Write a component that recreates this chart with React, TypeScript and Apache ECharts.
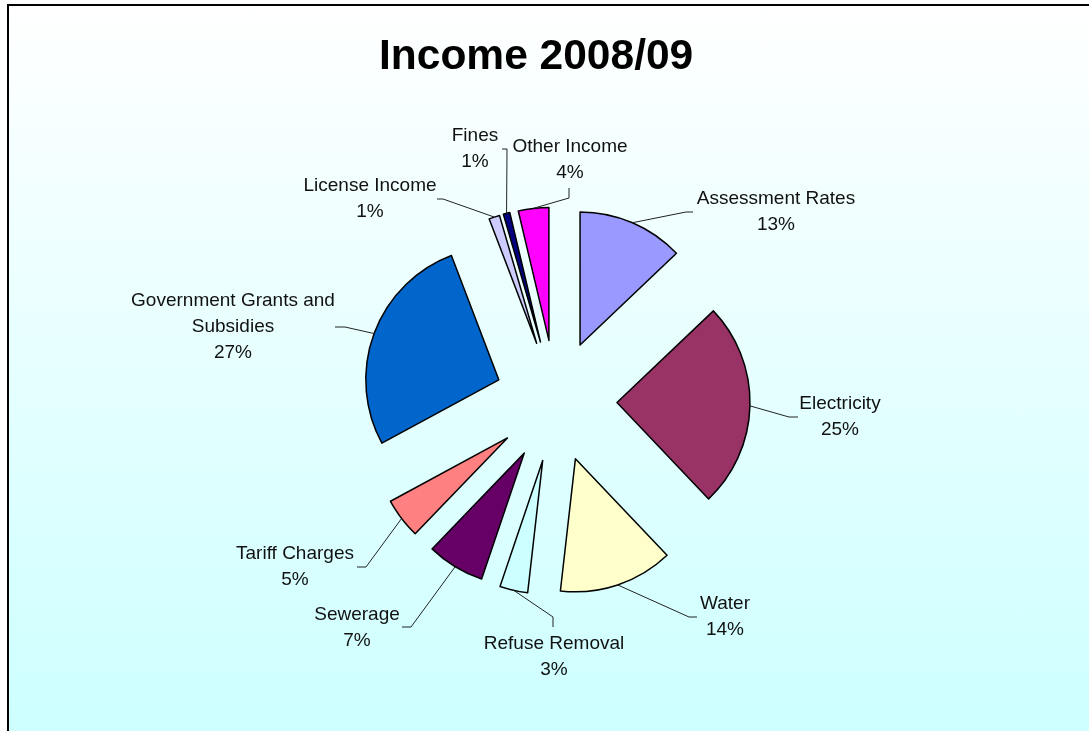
import React, { useEffect, useRef } from 'react';
import * as echarts from 'echarts';

const categories = [
  'Assessment Rates',
  'Electricity',
  'Water',
  'Refuse Removal',
  'Sewerage',
  'Tariff Charges',
  'Government Grants and Subsidies',
  'License Income',
  'Fines',
  'Other Income',
];
// shares (%); labels show them rounded
const values = [12.9, 25.0, 13.9, 3.4, 7.0, 4.9, 27.1, 1.3, 0.8, 3.7];
const colors = ['#9999FF', '#993366', '#FFFFCC', '#CCFFFF', '#660066', '#FF8080', '#0066CC', '#CCCCFF', '#000080', '#FF00FF'];

// label layout (text block centres) and leader-line bends
const labelCenters = [
  [776, 210], [840, 415], [725, 615], [554, 655], [357, 626],
  [295, 565], [233, 325], [370, 197], [475, 147], [570, 158],
];
const labelBends = [
  [[686, 212], [693, 212]],
  [[789, 417], [798, 417]],
  [[689, 617], [697, 617]],
  [[553, 617], [553, 627]],
  [[411, 627], [402, 627]],
  [[366, 567], [357, 567]],
  [[345, 327], [335, 327]],
  [[443, 199], [437, 199]],
  [[507, 149], [502, 149]],
  [[569, 198], [569, 188]],
];

const CX = 556;
const CY = 401;
const R = 133;
const OFFSET = 61;

export default function App() {
  const ref = useRef<HTMLDivElement>(null);
  useEffect(() => {
    if (!ref.current) return;
    const chart = echarts.init(ref.current, undefined, { renderer: 'svg' });
    const total = values.reduce((a, b) => a + b, 0);
    const starts: number[][] = [];
    let acc = 0;
    values.forEach((v) => {
      const mid = ((acc + v / 2) / total) * Math.PI * 2;
      starts.push([CX + (R + OFFSET) * Math.sin(mid), CY - (R + OFFSET) * Math.cos(mid)]);
      acc += v;
    });
    const labelTexts = categories.map(
      (name, i) => `${name.replace('Grants and ', 'Grants and\n')}\n${Math.round((values[i] / total) * 100)}%`
    );
    const labelGraphics: any[] = [];
    categories.forEach((_, i) => {
      labelGraphics.push({
        type: 'polyline',
        silent: true,
        z: 5,
        shape: { points: [starts[i], labelBends[i][0], labelBends[i][1]] },
        style: { stroke: '#222', lineWidth: 1, fill: 'none' },
      });
      labelGraphics.push({
        type: 'text',
        silent: true,
        z: 5,
        x: labelCenters[i][0],
        y: labelCenters[i][1],
        style: {
          text: labelTexts[i],
          font: '19px "Liberation Sans", Arial, sans-serif',
          fill: '#111',
          align: 'center',
          verticalAlign: 'middle',
          lineHeight: 26,
        },
      });
    });
    chart.setOption({
      animation: false,
      title: {
        text: 'Income 2008/09',
        left: 379,
        top: 33,
        padding: 0,
        textStyle: { fontFamily: 'Liberation Sans', fontWeight: 'bold', fontSize: 42.5, color: '#000' },
      },
      graphic: [
        {
          type: 'rect',
          z: -10,
          silent: true,
          shape: { x: 8, y: 5, width: 1200, height: 740 },
          style: {
            fill: {
              type: 'linear', x: 0, y: 0, x2: 0, y2: 1,
              colorStops: [
                { offset: 0, color: '#FFFFFF' },
                { offset: 1, color: '#CCFFFF' },
              ],
            },
            stroke: '#000',
            lineWidth: 2,
          },
        },
        ...labelGraphics,
      ],
      series: [
        {
          type: 'pie',
          center: [CX, CY],
          radius: R,
          startAngle: 90,
          clockwise: true,
          selectedMode: 'multiple',
          selectedOffset: OFFSET,
          avoidLabelOverlap: false,
          emphasis: { scale: false, disabled: true },
          itemStyle: { borderColor: '#000', borderWidth: 1.5 },
          label: { show: false },
          labelLine: { show: false },
          data: categories.map((name, i) => ({
            name,
            value: values[i],
            selected: true,
            itemStyle: { color: colors[i] },
            select: { itemStyle: { color: colors[i], borderColor: '#000', borderWidth: 1.5 } },
          })),
        },
      ],
    });
    return () => chart.dispose();
  }, []);
  return <div ref={ref} style={{ position: 'fixed', left: 0, top: 0, width: 1089, height: 731 }} />;
}
